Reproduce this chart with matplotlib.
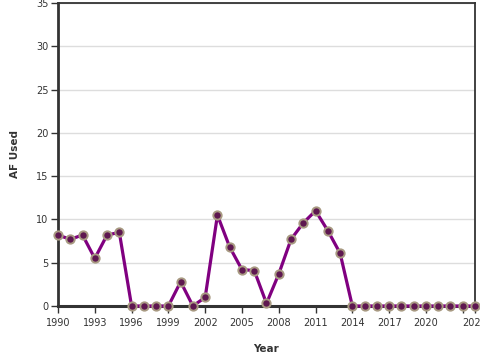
import numpy as np
import matplotlib.pyplot as plt

# Data
years = list(range(1990, 2025))
af_used = [8.2, 7.7, 8.2, 5.5, 8.2, 8.5, 0, 0, 0, 0,
           2.8, 0, 1.0, 10.5, 6.8, 4.2, 4.1, 0.3, 3.7, 7.7,
           9.6, 11.0, 8.7, 6.1, 0, 0, 0, 0, 0, 0,
           0, 0, 0, 0, 0]
tick_years = list(range(1990, 2024, 3)) + [2024]
tick_labels = [str(y) if y != 2023 else '' for y in tick_years]
y_ticks = [0, 5, 10, 15, 20, 25, 30, 35]

fig = plt.figure(figsize=(4.8, 3.6), dpi=100)
ax = fig.add_axes([58 / 480, 54 / 360, 417 / 480, 303 / 360])

ax.plot(years, af_used, color='#800080', lw=2.3, zorder=3,
        marker='o', markersize=6, markerfacecolor='#5e1750',
        markeredgecolor='#a89a82', markeredgewidth=1.4, clip_on=False)

ax.set_xlim(1990, 2024)
ax.set_ylim(0, 35)
ax.set_yticks(y_ticks)
ax.set_xticks(tick_years)
ax.set_xticklabels(tick_labels)
ax.grid(axis='y', color='#dddddd', lw=1)
ax.set_axisbelow(True)

for side in ['top', 'right']:
    ax.spines[side].set_color('#333333')
    ax.spines[side].set_linewidth(1.3)
ax.spines['left'].set_color('#333333')
ax.spines['left'].set_linewidth(2)
ax.spines['bottom'].set_color('#333333')
ax.spines['bottom'].set_linewidth(2.2)

ax.tick_params(axis='both', labelsize=7, colors='#333333', length=5, width=1)
ax.tick_params(axis='x', pad=4)
ax.tick_params(axis='y', pad=2)

ax.set_xlabel('Year', fontsize=7.5, fontweight='bold', color='#333333', labelpad=11)
ax.set_ylabel('AF Used', fontsize=7.5, fontweight='bold', color='#333333', labelpad=11)

fig.savefig('out.png', dpi=100)
